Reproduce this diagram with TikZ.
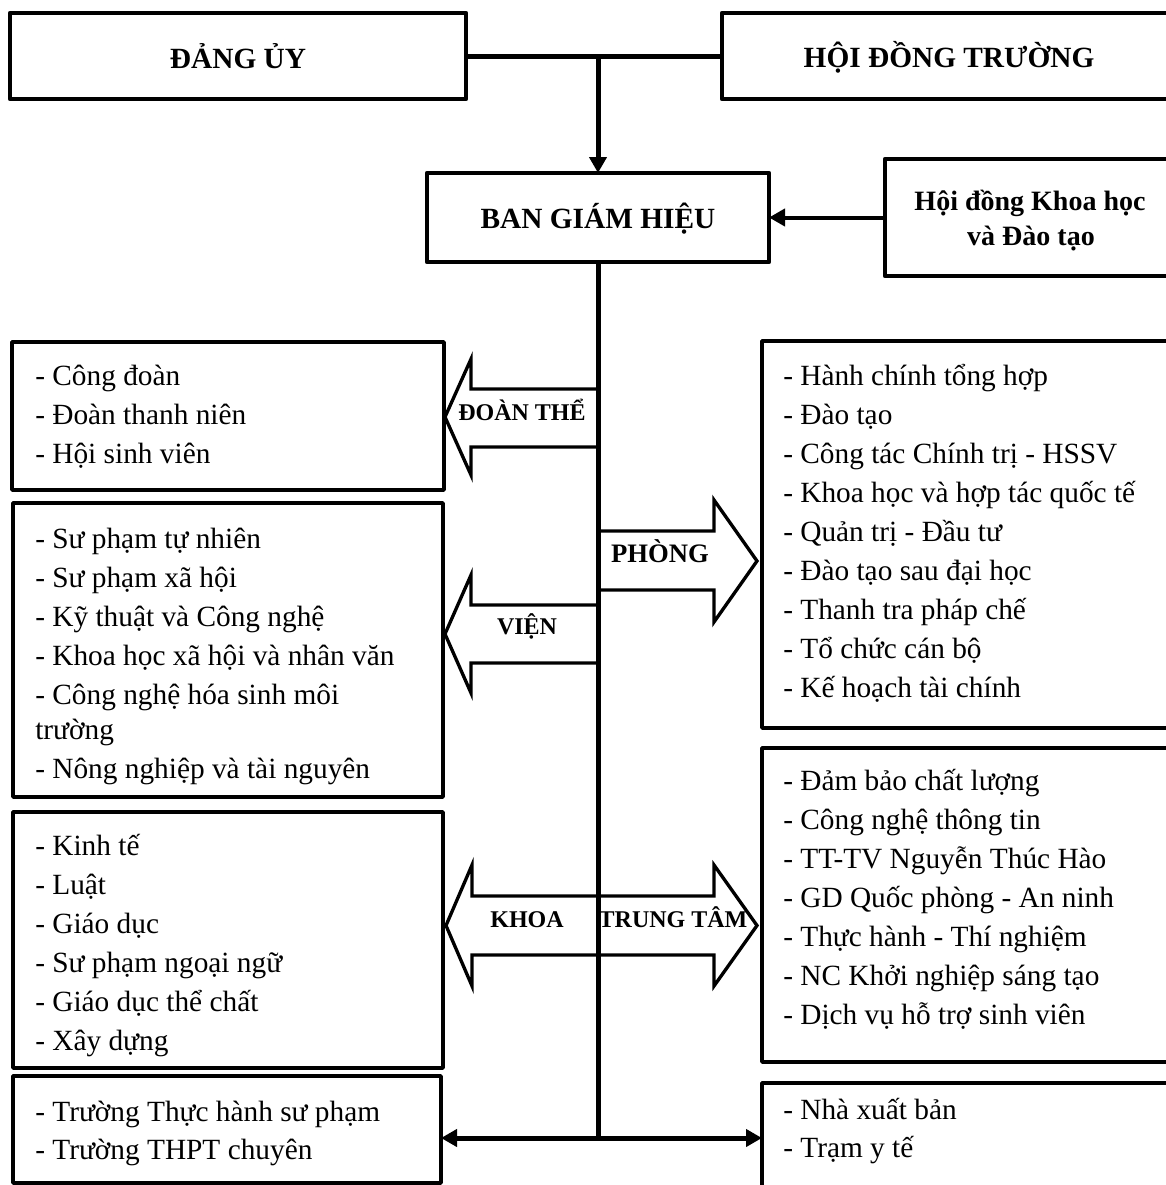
\documentclass[tikz,border=0pt]{standalone}
\usepackage{fontspec}
\setmainfont{Liberation Serif}
\usetikzlibrary{arrows.meta,fit}
\begin{document}
\begin{tikzpicture}[x=0.75pt,y=-0.75pt,
  topbox/.style={draw, line width=3.5pt, line join=round, inner sep=0pt, outer sep=0pt},
  lowbox/.style={draw, line width=2.8pt, line join=round, inner sep=0pt, outer sep=0pt},
  conn/.style={line width=3.75pt},
  thinconn/.style={line width=3pt},
  arrowtip/.style={-{Triangle[length=12pt,width=12.75pt]}},
  barrow/.style={draw, line width=2.5pt, line join=miter, fill=white},
  item/.style={anchor=base west, inner sep=0pt, font=\fontsize{22}{26}\selectfont},
  head/.style={anchor=base, inner sep=0pt, font=\fontsize{22}{26}\selectfont\bfseries},
  head2/.style={anchor=base, inner sep=0pt, font=\fontsize{21}{25}\selectfont\bfseries},
  alabel/.style={anchor=base, inner sep=0pt, font=\fontsize{18}{21}\selectfont\bfseries},
  plabel/.style={anchor=base, inner sep=0pt, font=\fontsize{20}{24}\selectfont\bfseries}]
\useasboundingbox (0,0) rectangle (1166,1185);
\clip (0,0) rectangle (1166,1185);
\fill[white] (0,0) rectangle (1166,1185);

% ---- top boxes
\node[topbox, fit={(10,13) (466,99)}] (dangy) {};
\node[topbox, fit={(722,13) (1176,99)}] (hdt) {};
\node[topbox, fit={(427,173) (769,262)}] (bgh) {};
\node[topbox, fit={(885,159) (1176,276)}] (hdkh) {};
\node[head] (dangyT) at (238,68) {ĐẢNG ỦY};
\node[head] (hdtT) at (949,67) {HỘI ĐỒNG TRƯỜNG};
\node[head] (bghT) at (598,228) {BAN GIÁM HIỆU};
\node[head2] (hdkhT1) at (1030,210) {Hội đồng Khoa học};
\node[head2] (hdkhT2) at (1031,245) {và Đào tạo};

% ---- lower boxes
\node[lowbox, fit={(12,342) (444,490)}] (bDT) {};
\node[lowbox, fit={(13,503) (443,797)}] (bVien) {};
\node[lowbox, fit={(13,812) (443,1068)}] (bKhoa) {};
\node[lowbox, fit={(13,1076) (441,1183)}] (bTruong) {};
\node[lowbox, fit={(762,341) (1176,728)}] (bPhong) {};
\node[lowbox, fit={(762,748) (1176,1062)}] (bTT) {};
\node[lowbox, fit={(762,1083) (1176,1200)}] (bBR) {};

% ---- connectors at top
\coordinate (j1) at (598,56);
\coordinate (j2) at (598,1138);
\draw[conn] (dangy.east) -- (hdt.west);
\draw[conn, arrowtip] (j1) -- (j1 |- bgh.north);
\draw[thinconn, arrowtip] (hdkh.west) -- (bgh.east);

% ---- block arrows
\draw[barrow] (598,389) -- (471,389) -- (471,359) -- (445,417) -- (471,475) -- (471,447) -- (598,447);
\draw[barrow] (598,531) -- (714,531) -- (714,500) -- (757,561) -- (714,622) -- (714,590) -- (598,590);
\draw[barrow] (598,605) -- (471,605) -- (471,575) -- (445,634) -- (471,693) -- (471,663) -- (598,663);
\draw[barrow] (472,896) -- (714,896) -- (714,865) -- (757,925.5) -- (714,986) -- (714,955)
  -- (472,955) -- (472,986) -- (446,925.5) -- (472,865) -- cycle;

% ---- spine and bottom connectors
\draw[conn] (bgh.south) -- (j2);
\draw[conn, arrowtip] (j2) -- (j2 -| bTruong.east);
\draw[conn, arrowtip] (j2) -- (j2 -| bPhong.west);

% ---- arrow labels
\node[alabel] (lDT) at (522,420) {ĐOÀN THỂ};
\node[plabel] (lPhong) at (660,562) {PHÒNG};
\node[alabel] (lVien) at (527,634) {VIỆN};
\node[alabel] (lKhoa) at (527,927) {KHOA};
\node[alabel] (lTT) at (673,927) {TRUNG TÂM};

% ---- list items
\foreach \yy/\t [count=\i] in {385/{- Công đoàn}, 424/{- Đoàn thanh niên}, 463/{- Hội sinh viên}}
  \node[item] (dt\i) at (35,\yy) {\t};
\foreach \yy/\t [count=\i] in {548/{- Sư phạm tự nhiên}, 587/{- Sư phạm xã hội}, 626/{- Kỹ thuật và Công nghệ},
  665/{- Khoa học xã hội và nhân văn}, 704/{- Công nghệ hóa sinh môi}, 739/{trường}, 778/{- Nông nghiệp và tài nguyên}}
  \node[item] (vi\i) at (35,\yy) {\t};
\foreach \yy/\t [count=\i] in {855/{- Kinh tế}, 894/{- Luật}, 933/{- Giáo dục}, 972/{- Sư phạm ngoại ngữ},
  1011/{- Giáo dục thể chất}, 1050/{- Xây dựng}}
  \node[item] (kh\i) at (35,\yy) {\t};
\foreach \yy/\t [count=\i] in {1121/{- Trường Thực hành sư phạm}, 1159/{- Trường THPT chuyên}}
  \node[item] (tr\i) at (35,\yy) {\t};
\foreach \yy/\t [count=\i] in {385/{- Hành chính tổng hợp}, 424/{- Đào tạo}, 463/{- Công tác Chính trị - HSSV},
  502/{- Khoa học và hợp tác quốc tế}, 541/{- Quản trị - Đầu tư}, 580/{- Đào tạo sau đại học},
  619/{- Thanh tra pháp chế}, 658/{- Tổ chức cán bộ}, 697/{- Kế hoạch tài chính}}
  \node[item] (ph\i) at (783,\yy) {\t};
\foreach \yy/\t [count=\i] in {790/{- Đảm bảo chất lượng}, 829/{- Công nghệ thông tin}, 868/{- TT-TV Nguyễn Thúc Hào},
  907/{- GD Quốc phòng - An ninh}, 946/{- Thực hành - Thí nghiệm}, 985/{- NC Khởi nghiệp sáng tạo},
  1024/{- Dịch vụ hỗ trợ sinh viên}}
  \node[item] (tt\i) at (783,\yy) {\t};
\foreach \yy/\t [count=\i] in {1119/{- Nhà xuất bản}, 1157/{- Trạm y tế}}
  \node[item] (br\i) at (783,\yy) {\t};
\end{tikzpicture}
\end{document}
